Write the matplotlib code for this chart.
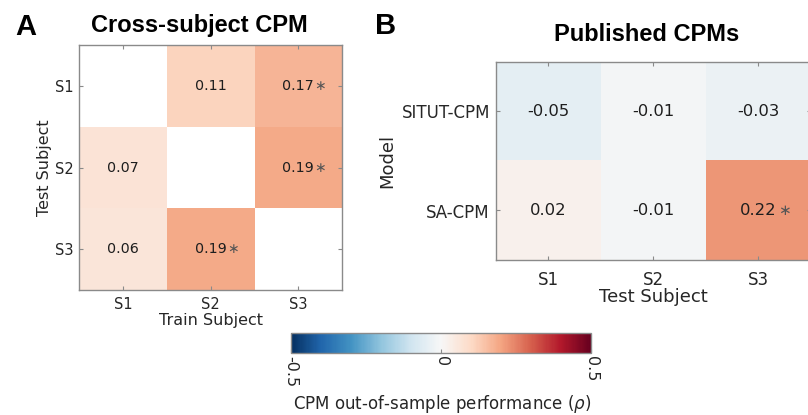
import numpy as np
import matplotlib
matplotlib.use("Agg")
import matplotlib.pyplot as plt

# ---- data ----
subjects = ["S1", "S2", "S3"]
train_labels = ["S1", "S2", "S3"]
test_labels_a = ["S1", "S2", "S3"]
# rows = test subject, cols = train subject (NaN on diagonal)
cross_vals = [
    [np.nan, 0.11, 0.17],
    [0.07, np.nan, 0.19],
    [0.06, 0.19, np.nan],
]
cross_sig = [
    [False, False, True],
    [False, False, True],
    [False, True, False],
]
models = ["SITUT-CPM", "SA-CPM"]
pub_vals = [
    [-0.05, -0.01, -0.03],
    [0.02, -0.01, 0.22],
]
pub_sig = [
    [False, False, False],
    [False, False, True],
]
cbar_ticks = [-0.5, 0, 0.5]
cbar_ticklabels = ["-0.5", "0", "0.5"]

W, H = 808, 415
fig = plt.figure(figsize=(W / 100, H / 100), dpi=100)

def frac(l, t, r, b):
    return [l / W, 1 - b / H, (r - l) / W, (b - t) / H]

cmap = plt.get_cmap("RdBu_r").copy()
cmap.set_bad("white")
vmin, vmax = -0.5, 0.5
grey = "#8a8a8a"
txt = "#262626"

def style_axes(ax, xpad, ypad, labsize):
    for s in ax.spines.values():
        s.set_color(grey)
        s.set_linewidth(1.0)
    ax.tick_params(direction="in", length=3, width=0.8, color=grey,
                   top=True, right=True, labelcolor=txt, labelsize=labsize)
    ax.tick_params(axis="x", pad=xpad)
    ax.tick_params(axis="y", pad=ypad)

# ---- panel A ----
axA = fig.add_axes(frac(79, 45, 342, 290))
dataA = np.ma.masked_invalid(np.array(cross_vals, dtype=float))
imA = axA.imshow(dataA, cmap=cmap, vmin=vmin, vmax=vmax, aspect="auto",
                 interpolation="nearest")
axA.set_xticks(range(len(train_labels)))
axA.set_xticklabels(train_labels)
axA.set_yticks(range(len(test_labels_a)))
axA.set_yticklabels(test_labels_a)
style_axes(axA, 5, 4, 10.5)
axA.set_xlabel("Train Subject", fontsize=11.5, color=txt)
axA.set_ylabel("Test Subject", fontsize=11.5, color=txt)
axA.xaxis.set_label_coords(0.5, -0.095)
axA.yaxis.set_label_coords(-0.103, 0.5)
for i in range(len(cross_vals)):
    for j in range(len(cross_vals[i])):
        v = cross_vals[i][j]
        if np.isnan(v):
            continue
        axA.text(j, i, f"{v:.2f}", ha="center", va="center", fontsize=10.3,
                 color="#1e1e1e")
        if cross_sig[i][j]:
            axA.annotate("\u2217", xy=(j, i), xytext=(16, 0),
                         textcoords="offset points", ha="center", va="center",
                         fontsize=10, color="#555555")

# ---- panel B ----
axB = fig.add_axes(frac(495.5, 62, 810.5, 260))
dataB = np.array(pub_vals, dtype=float)
imB = axB.imshow(dataB, cmap=cmap, vmin=vmin, vmax=vmax, aspect="auto",
                 interpolation="nearest")
axB.set_xticks(range(len(subjects)))
axB.set_xticklabels(subjects)
axB.set_yticks(range(len(models)))
axB.set_yticklabels(models)
style_axes(axB, 8, 4, 12)
axB.set_xlabel("Test Subject", fontsize=13, color=txt)
axB.set_ylabel("Model", fontsize=13, color=txt)
axB.xaxis.set_label_coords(0.5, -0.142)
axB.yaxis.set_label_coords(-0.315, 0.5)
for i in range(len(pub_vals)):
    for j in range(len(pub_vals[i])):
        v = pub_vals[i][j]
        axB.text(j, i, f"{v:.2f}", ha="center", va="center", fontsize=11.8,
                 color="#1e1e1e")
        if pub_sig[i][j]:
            axB.annotate("\u2217", xy=(j, i), xytext=(19, 0),
                         textcoords="offset points", ha="center", va="center",
                         fontsize=11, color="#555555")

# ---- colorbar ----
cax = fig.add_axes(frac(291, 333, 591, 353))
cb = fig.colorbar(imB, cax=cax, orientation="horizontal", ticks=cbar_ticks)
cb.set_ticklabels(cbar_ticklabels)
cb.outline.set_edgecolor(grey)
cb.outline.set_linewidth(1.0)
cax.tick_params(direction="in", length=3, width=0.8, color=grey,
                labelcolor=txt, labelsize=11.5, labelrotation=-90, pad=2)
cax.set_xlabel("CPM out-of-sample performance ($\\rho$)", fontsize=12, color=txt)
cax.xaxis.set_label_coords(0.505, -2.0)

# ---- titles & panel letters ----
bold = dict(family=["Liberation Sans", "DejaVu Sans"], weight="bold", color="black")
fig.text(199.5 / W, 1 - 32 / H, "Cross-subject CPM", ha="center", va="baseline",
         fontsize=17, **bold)
fig.text(647 / W, 1 - 41 / H, "Published CPMs", ha="center", va="baseline",
         fontsize=17, **bold)
fig.text(15 / W, 1 - 35 / H, "A", ha="left", va="baseline", fontsize=21, **bold)
fig.text(375 / W, 1 - 34 / H, "B", ha="left", va="baseline", fontsize=21, **bold)

fig.savefig("out.png", dpi=100)
